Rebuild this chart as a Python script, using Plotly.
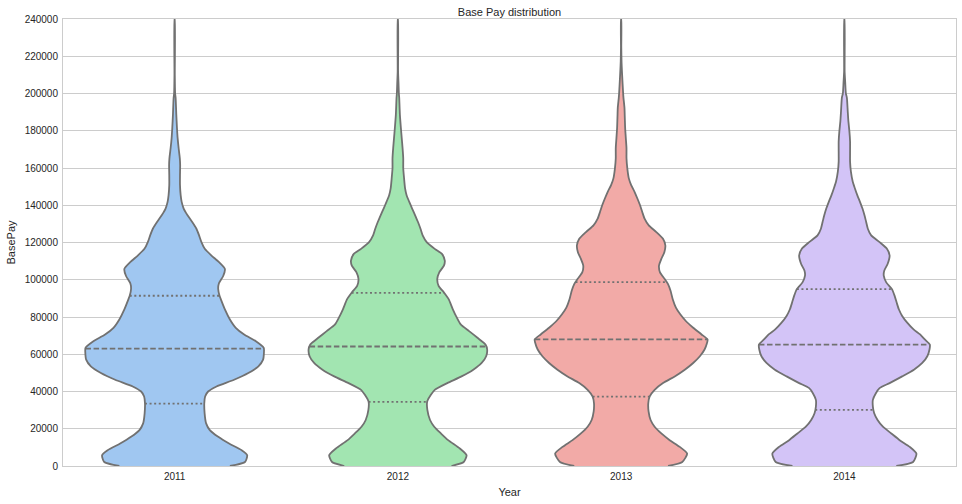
import numpy as np
import plotly.graph_objects as go

years = ["2011", "2012", "2013", "2014"]
colors = ["#A0C7F1", "#A2E5B1", "#F2AAA7", "#D3C4F7"]
outline = "#717171"

# Estimated density profiles (BasePay level -> relative violin width)
levels_2011 = [0, 2160, 5770, 8470, 12070, 15680, 19280, 22890, 28290, 33700, 37300, 40000, 42700,
               46300, 49900, 53500, 57100, 60700, 63400, 67000, 70600, 74200, 78700, 84100, 89500,
               91400, 95000, 98000, 102000, 105800, 109400, 113000, 116600, 120200, 123800, 127400,
               131000, 134600, 138200, 141800, 145400, 150800, 156200, 161600, 165200, 170600, 176000,
               181500, 188700, 197700, 200000, 210000, 240000]
width_2011 = [330, 420, 433, 400, 325, 260, 210, 188, 179, 177, 182, 200, 250,
              355, 440, 500, 528, 533, 532, 485, 415, 365, 330, 300, 276,
              268, 260, 264, 290, 300, 265, 220, 180, 160, 146, 130,
              105, 77, 54, 42, 36, 32, 32, 33, 31, 24, 18,
              14, 10, 6, 3, 1, 0.6]

levels_2012 = [0, 2160, 5770, 9370, 13880, 17480, 21080, 24690, 30090, 34600, 38200, 40900, 44510,
               48110, 51720, 55320, 58930, 62530, 65230, 68840, 72440, 76040, 79650, 84150, 89560,
               93160, 96770, 100370, 103980, 107580, 110280, 113890, 116590, 120190, 123800, 127400,
               131000, 134610, 138210, 141820, 145420, 149030, 154430, 159840, 165240, 170650, 176060,
               181460, 188670, 197680, 200000, 205000, 212000, 240000]
width_2012 = [320, 393, 410, 370, 300, 257, 217, 192, 176, 175, 197, 220, 295,
              380, 450, 500, 527, 533, 523, 475, 425, 375, 352, 328, 303,
              275, 243, 235, 247, 275, 280, 263, 220, 172, 148, 135,
              120, 103, 85, 68, 52, 43, 37, 32, 32, 28, 23,
              18, 12, 8, 6, 4, 1.2, 0.6]

levels_2013 = [0, 2160, 6670, 10270, 13880, 17480, 21080, 24690, 29190, 33700, 37300, 40900, 44510,
               48110, 51720, 55320, 58930, 62530, 66130, 67940, 70640, 74240, 77850, 81450, 85050,
               89560, 94060, 97670, 100370, 103980, 107580, 111180, 114790, 118390, 121990, 125600,
               129200, 132810, 136410, 140010, 143620, 147220, 150830, 154430, 159840, 165240, 170650,
               176060, 181460, 186870, 192270, 197680, 200000, 210000, 217000, 225000, 240000]
width_2013 = [280, 365, 394, 350, 290, 240, 200, 176, 164, 162, 170, 200, 250,
              320, 380, 430, 470, 498, 513, 516, 480, 430, 386, 353, 327,
              308, 295, 280, 260, 232, 226, 240, 258, 264, 250, 210,
              165, 140, 126, 113, 97, 80, 60, 46, 37, 32, 32,
              28, 24, 22, 20, 14, 12, 6, 2.5, 1, 0.6]

levels_2014 = [0, 2160, 6670, 10270, 13880, 17480, 21080, 24690, 28290, 31900, 35500, 39100, 41810,
               44510, 48110, 51720, 55320, 58930, 62530, 65230, 67940, 70640, 73340, 76950, 80550,
               84150, 87760, 91360, 94970, 98570, 102170, 104880, 108480, 112990, 116590, 120190,
               123800, 127400, 131000, 134610, 138210, 141820, 145420, 149030, 152630, 158040, 163440,
               168850, 174250, 179660, 185060, 190470, 197680, 200000, 206000, 212000, 240000]
width_2014 = [310, 410, 430, 390, 330, 280, 230, 198, 178, 170, 170, 188, 210,
              270, 345, 415, 465, 495, 508, 510, 480, 452, 413, 375, 345,
              325, 312, 300, 284, 250, 235, 238, 258, 270, 254, 210,
              160, 140, 130, 120, 108, 93, 77, 63, 50, 39, 34,
              34, 34, 30, 24, 20, 15, 9, 5, 1.5, 0.6]

# Quartiles (Q1, median, Q3)
quartiles = {
    "2011": [33500, 63000, 91400],
    "2012": [34400, 64150, 93000],
    "2013": [37300, 68000, 98700],
    "2014": [30100, 65200, 95000],
}

profiles = {
    "2011": (levels_2011, width_2011),
    "2012": (levels_2012, width_2012),
    "2013": (levels_2013, width_2013),
    "2014": (levels_2014, width_2014),
}

max_w = max(max(w) for _, w in profiles.values())
HALF = 0.4  # max half-width in category units

fig = go.Figure()
for i, yr in enumerate(years):
    lv, w = profiles[yr]
    lv = np.array(lv, dtype=float)
    hw = HALF * np.array(w, dtype=float) / max_w
    fx = np.concatenate([i + hw, (i - hw)[::-1]])
    fy = np.concatenate([lv, lv[::-1]])
    fig.add_trace(go.Scatter(x=fx, y=fy, mode="lines", fill="toself", fillcolor=colors[i],
                             line=dict(width=0, shape="spline", smoothing=0.6),
                             hoverinfo="skip", showlegend=False))
    fig.add_trace(go.Scatter(x=fx, y=fy, mode="lines",
                             line=dict(color=outline, width=1.8, shape="spline", smoothing=0.6),
                             hoverinfo="skip", showlegend=False))
    for q, dash in zip(quartiles[yr], ["2px,2.6px", "5.5px,2.6px", "2px,2.6px"]):
        qw = HALF * np.interp(q, lv, np.array(w, dtype=float)) / max_w
        fig.add_trace(go.Scatter(x=[i - qw, i + qw], y=[q, q], mode="lines",
                                 line=dict(color=outline, width=1.8, dash=dash),
                                 hoverinfo="skip", showlegend=False))

font = "Liberation Sans, Arial, sans-serif"
fig.update_layout(
    width=962, height=504,
    margin=dict(l=63, r=6, t=19, b=38),
    plot_bgcolor="white", paper_bgcolor="white",
    font=dict(family=font, size=10, color="#262626"),
    title=dict(text="Base Pay distribution", x=0.5, xref="paper", xanchor="center",
               y=1 - 12 / 504, yref="container", yanchor="middle",
               font=dict(size=11, color="#262626")),
    showlegend=False,
)
fig.update_xaxes(range=[-0.5, 3.5], tickvals=list(range(len(years))), ticktext=years,
                 showgrid=False, zeroline=False, showline=True, linecolor="#cccccc",
                 linewidth=1, mirror=True, ticks="outside", ticklen=1,
                 tickcolor="rgba(0,0,0,0)",
                 title=dict(text="Year", font=dict(size=11), standoff=7))
fig.update_yaxes(range=[0, 240000], dtick=20000, tickformat="d",
                 showgrid=True, gridcolor="#cccccc", gridwidth=1, zeroline=False,
                 showline=True, linecolor="#cccccc", linewidth=1, mirror=True,
                 ticks="outside", ticklen=2, tickcolor="rgba(0,0,0,0)",
                 title=dict(text="BasePay", font=dict(size=11), standoff=6))

fig.write_html("out.html", config={"displayModeBar": False},
               post_script="document.body.style.margin='0';document.body.style.padding='0';")
